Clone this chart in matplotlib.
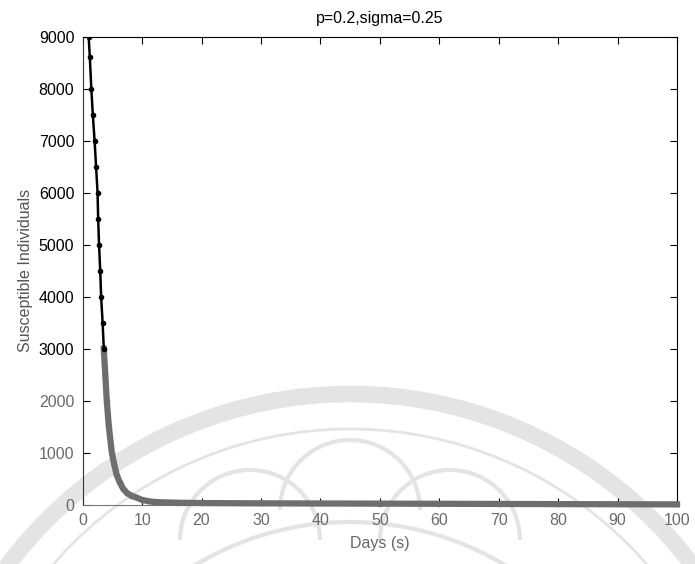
import numpy as np
import matplotlib
matplotlib.use('Agg')
import matplotlib.pyplot as plt
from matplotlib.patches import Arc

# values
# upper part of the curve (drawn dark)
days_hi = [1.0, 1.2, 1.45, 1.7, 2.0, 2.25, 2.5, 2.6, 2.75, 2.95, 3.1, 3.35, 3.55]
sus_hi = [9000, 8600, 8000, 7500, 7000, 6500, 6000, 5500, 5000, 4500, 4000, 3500, 3000]
# lower part of the curve (lighter in the scan)
days_lo = [3.55, 3.8, 4.05, 4.4, 4.9, 5.3, 5.7, 6.2, 6.8, 7.5, 8.2, 9.0, 10, 11, 12,
           14, 16, 18, 20, 25, 30, 40, 50, 60, 70, 80, 90, 100]
sus_lo = [3000, 2500, 2000, 1500, 1000, 780, 580, 440, 310, 220, 175, 140, 95, 70, 55,
          45, 40, 36, 33, 30, 28, 25, 22, 19, 16, 13, 10, 8]

x_ticks = list(range(0, 101, 10))
y_ticks = list(range(0, 9001, 1000))

W, H = 695, 564
plt.rcParams['font.family'] = ['Liberation Sans', 'DejaVu Sans']
fig = plt.figure(figsize=(W / 100, H / 100), dpi=100)
ax = fig.add_axes([0.119, 0.105, 0.855, 0.83])
ax.patch.set_alpha(0)


def ring(cx, cy, r, lw, t1=0, t2=180):
    # faint watermark arc, given in figure pixels
    fig.patches.append(Arc((cx / W, 1 - cy / H), 2 * r / W, 2 * r / H,
                           theta1=t1, theta2=t2, transform=fig.transFigure,
                           color='#e4e4e4', lw=lw, zorder=-1))


ring(350, 822, 428, 12)
ring(350, 822, 393, 2)
ring(350, 822, 300, 3)
for px, top in [(250, 470), (350, 440), (450, 470)]:
    ring(px, top + 70, 70, 3, 0, 180)

ax.plot(days_lo, sus_lo, color='#6e6e6e', lw=4.5, marker='.', ms=6, zorder=3, clip_on=False)
ax.plot(days_hi, sus_hi, color='black', lw=1.8, marker='.', ms=6, zorder=4)

ax.set_xlim(0, 100)
ax.set_ylim(0, 9000)
ax.set_xticks(x_ticks)
ax.set_yticks(y_ticks)
ax.tick_params(direction='in', length=5, top=True, right=True, labelsize=11.5, pad=6)
for lab, v in zip(ax.get_yticklabels(), y_ticks):
    lab.set_color('black' if v >= 3000 else '#6a6a6a')
for lab in ax.get_xticklabels():
    lab.set_color('#6a6a6a')
ax.spines['bottom'].set_color('#777777')
ax.spines['left'].set_color('#333333')

ax.set_title('p=0.2,sigma=0.25', fontsize=11.5, pad=10)
ax.set_xlabel('Days (s)', fontsize=11.5, color='#666666', labelpad=6)
ax.set_ylabel('Susceptible Individuals', fontsize=11.5, color='#555555', labelpad=4)

fig.savefig('out.png', dpi=100)
